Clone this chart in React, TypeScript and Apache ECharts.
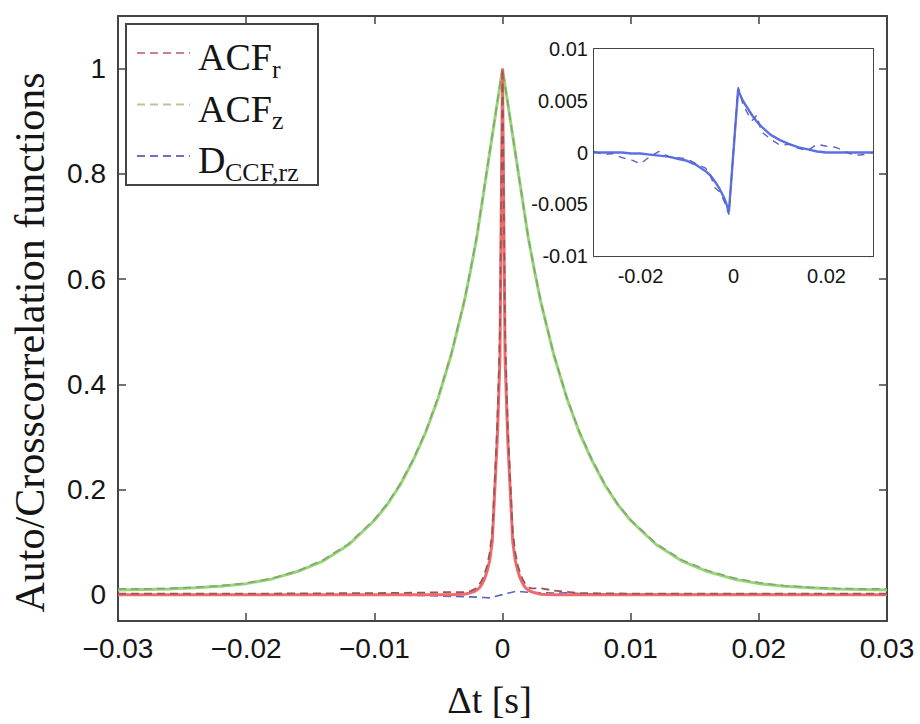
import React, { useEffect, useRef } from "react";
import * as echarts from "echarts";

// ---- main panel data ----
const tG = [-0.03,-0.028,-0.026,-0.024,-0.022,-0.02,-0.018,-0.016,-0.014,-0.012,-0.01,-0.009,-0.008,-0.007,-0.006,-0.005,-0.004,-0.003,-0.0025,-0.002,-0.0015,-0.001,-0.0005,0,0.0005,0.001,0.0015,0.002,0.0025,0.003,0.004,0.005,0.006,0.007,0.008,0.009,0.01,0.012,0.014,0.016,0.018,0.02,0.022,0.024,0.026,0.028,0.03];
const acfZFit = [0.009,0.010,0.011,0.013,0.016,0.021,0.030,0.044,0.064,0.095,0.141,0.171,0.208,0.254,0.308,0.375,0.456,0.555,0.615,0.68,0.76,0.84,0.92,1,0.92,0.84,0.76,0.68,0.615,0.555,0.456,0.375,0.308,0.254,0.208,0.171,0.141,0.095,0.064,0.044,0.030,0.021,0.016,0.013,0.011,0.010,0.009];
const acfZData = [0.011,0.011,0.012,0.014,0.017,0.022,0.031,0.045,0.066,0.097,0.143,0.173,0.21,0.256,0.31,0.377,0.458,0.557,0.617,0.683,0.762,0.842,0.921,1,0.92,0.84,0.76,0.68,0.616,0.556,0.457,0.376,0.31,0.256,0.21,0.172,0.142,0.097,0.066,0.046,0.032,0.023,0.017,0.014,0.012,0.011,0.011];

const tR = [-0.03,-0.02,-0.01,-0.006,-0.004,-0.003,-0.0026,-0.0022,-0.002,-0.0018,-0.0016,-0.0014,-0.0012,-0.001,-0.0008,-0.0006,-0.0004,-0.0002,0,0.0002,0.0004,0.0006,0.0008,0.001,0.0012,0.0014,0.0016,0.0018,0.002,0.0022,0.0026,0.003,0.004,0.006,0.01,0.02,0.03];
const acfRFit = [0,0,0,0,0,0.001,0.003,0.006,0.009,0.013,0.02,0.03,0.045,0.065,0.1,0.2,0.3,0.45,1,0.45,0.3,0.2,0.1,0.065,0.045,0.03,0.02,0.013,0.009,0.006,0.003,0.001,0,0,0,0,0];
const acfRData = [0.002,0.002,0.003,0.004,0.005,0.005,0.006,0.01,0.014,0.02,0.028,0.04,0.055,0.08,0.12,0.22,0.33,0.5,1,0.5,0.33,0.22,0.12,0.08,0.055,0.04,0.028,0.02,0.015,0.012,0.012,0.012,0.008,0.003,0.002,0.002,0.002];

// ---- D_CCF,rz (inset, also near zero in main panel) ----
const tD = [-0.03,-0.028,-0.026,-0.024,-0.022,-0.02,-0.018,-0.016,-0.014,-0.012,-0.01,-0.008,-0.006,-0.005,-0.004,-0.003,-0.002,-0.0015,-0.001,0.001,0.0015,0.002,0.003,0.004,0.005,0.006,0.008,0.01,0.012,0.014,0.016,0.018,0.02,0.022,0.024,0.026,0.028,0.03];
const dFit = [0,0,0,0,-0.0001,-0.0001,-0.0002,-0.0003,-0.0004,-0.0006,-0.0008,-0.0012,-0.0018,-0.0022,-0.0028,-0.0035,-0.0044,-0.005,-0.0058,0.0061,0.0055,0.005,0.0043,0.0036,0.003,0.0025,0.0017,0.0012,0.0008,0.0005,0.0003,0.0001,0,0,0,0,0,0];
const dData = [0.0001,-0.0002,-0.0001,-0.0005,-0.0007,-0.0011,-0.0004,0.0001,-0.0004,-0.0005,-0.0006,-0.0011,-0.0015,-0.0022,-0.0034,-0.0038,-0.0047,-0.0053,-0.006,0.0063,0.0056,0.0047,0.0038,0.0031,0.0036,0.002,0.0013,0.0007,0.0008,0.0004,0.0002,0.0008,0.0006,0.0005,0.0001,-0.0003,-0.0002,0];

// ---- ticks ----
const mainYTicks = [0, 0.2, 0.4, 0.6, 0.8, 1];
const insetXTicks = [-0.02, 0, 0.02];

const legendItems = [
  { main: "ACF", sub: "r", color: "#c98585" },
  { main: "ACF", sub: "z", color: "#b9c69a" },
  { main: "D", sub: "CCF,rz", color: "#6a72c4" },
];

const GREEN = "#93d874";
const GREEN_D = "#8c9e7a";
const RED = "#ef6b6b";
const RED_D = "#9a5656";
const BLUE = "#5d70e2";
const BLUE_D = "#5864c2";
const AXIS = "#444";
const TXT = "#151515";
const SANS = "'Liberation Sans', Arial, Helvetica, sans-serif";
const SERIF = "'Liberation Serif', 'Times New Roman', serif";

const zip = (t: number[], v: number[]) => t.map((x, i) => [x, v[i]]);
const minus = (s: string) => s.replace("-", "\u2212");
const fmt = (v: number) => String(+v.toFixed(4));

function buildOption() {
  const mainTick = { show: true, inside: true, length: 8, lineStyle: { color: AXIS, width: 1.5 } };
  const insetTick = { show: true, inside: true, length: 5, lineStyle: { color: AXIS, width: 1.2 } };
  const line = { show: true, onZero: false, lineStyle: { color: AXIS, width: 2 } };

  const legendGraphics: any[] = [
    { type: "rect", shape: { x: 126, y: 24, width: 192, height: 161 }, style: { fill: "#fff", stroke: AXIS, lineWidth: 2 }, z: 100 },
  ];
  legendItems.forEach((it, i) => {
    const ly = 53 + 51.5 * i;
    legendGraphics.push({
      type: "line", shape: { x1: 137, y1: ly, x2: 190, y2: ly },
      style: { stroke: it.color, lineWidth: 2, lineDash: [8, 5] }, z: 101,
    });
    legendGraphics.push({
      type: "text", x: 198, y: ly + 4,
      style: { text: it.main, font: `38px ${SERIF}`, fill: TXT, verticalAlign: "middle", align: "left" }, z: 101,
    });
    legendGraphics.push({
      type: "text", x: it.main === "D" ? 225 : 272, y: ly + 16,
      style: { text: it.sub, font: `26px ${SERIF}`, fill: TXT, verticalAlign: "middle", align: "left" }, z: 101,
    });
  });

  return {
    animation: false,
    backgroundColor: "#fff",
    grid: [
      { left: 118, top: 16, width: 769, height: 606 },
      { left: 594, top: 49, width: 279, height: 207, show: true, backgroundColor: "#fff", borderWidth: 0, z: 5 },
    ],
    xAxis: [
      {
        gridIndex: 0, type: "value", position: "bottom", min: -0.03, max: 0.03, interval: 0.01,
        axisLine: line, axisTick: mainTick, splitLine: { show: false },
        axisLabel: { fontFamily: SANS, fontSize: 28, color: TXT, margin: 13, formatter: (v: number) => minus(fmt(v)) },
        name: "\u0394t [s]", nameLocation: "middle", nameGap: 60,
        nameTextStyle: { fontFamily: SERIF, fontSize: 38, color: TXT, padding: [0, 26, 0, 0] },
      },
      {
        gridIndex: 0, type: "value", position: "top", min: -0.03, max: 0.03, interval: 0.01,
        axisLine: line, axisTick: mainTick, axisLabel: { show: false }, splitLine: { show: false },
      },
      {
        gridIndex: 1, type: "value", position: "bottom", min: -0.03, max: 0.03,
        axisLine: line, splitLine: { show: false },
        axisTick: { ...insetTick, customValues: insetXTicks },
        axisLabel: { customValues: insetXTicks, fontFamily: SANS, fontSize: 20, color: TXT, margin: 10, formatter: (v: number) => fmt(v) },
      },
      {
        gridIndex: 1, type: "value", position: "top", min: -0.03, max: 0.03,
        axisLine: line, splitLine: { show: false },
        axisTick: { ...insetTick, customValues: insetXTicks },
        axisLabel: { show: false, customValues: insetXTicks },
      },
    ],
    yAxis: [
      {
        gridIndex: 0, type: "value", position: "left", min: -0.05, max: 1.1,
        axisLine: line, splitLine: { show: false },
        axisTick: { ...mainTick, customValues: mainYTicks },
        axisLabel: { customValues: mainYTicks, fontFamily: SANS, fontSize: 28, color: TXT, margin: 12, formatter: (v: number) => fmt(v) },
        name: "Auto/Crosscorrelation functions", nameLocation: "middle", nameGap: 67,
        nameTextStyle: { fontFamily: SERIF, fontSize: 42, color: TXT, padding: [0, 48, 0, 0] },
      },
      {
        gridIndex: 0, type: "value", position: "right", min: -0.05, max: 1.1,
        axisLine: line, splitLine: { show: false },
        axisTick: { ...mainTick, customValues: mainYTicks },
        axisLabel: { show: false, customValues: mainYTicks },
      },
      {
        gridIndex: 1, type: "value", position: "left", min: -0.01, max: 0.01, interval: 0.005,
        axisLine: line, splitLine: { show: false }, axisTick: insetTick,
        axisLabel: { fontFamily: SANS, fontSize: 20, color: TXT, margin: 6, formatter: (v: number) => fmt(v) },
      },
      {
        gridIndex: 1, type: "value", position: "right", min: -0.01, max: 0.01, interval: 0.005,
        axisLine: line, splitLine: { show: false }, axisTick: insetTick, axisLabel: { show: false },
      },
    ],
    series: [
      { name: "ACF_z fit", type: "line", xAxisIndex: 0, yAxisIndex: 0, data: zip(tG, acfZFit), showSymbol: false, symbol: "none", lineStyle: { color: GREEN, width: 3 }, z: 2 },
      { name: "ACF_z", type: "line", xAxisIndex: 0, yAxisIndex: 0, data: zip(tG, acfZData), showSymbol: false, symbol: "none", lineStyle: { color: GREEN_D, width: 1.6, type: [8, 5] }, z: 3 },
      { name: "D_CCF,rz", type: "line", xAxisIndex: 0, yAxisIndex: 0, data: zip(tD, dData), showSymbol: false, symbol: "none", lineStyle: { color: BLUE_D, width: 1.6, type: [8, 5] }, z: 4 },
      { name: "ACF_r fit", type: "line", xAxisIndex: 0, yAxisIndex: 0, data: zip(tR, acfRFit), showSymbol: false, symbol: "none", lineStyle: { color: RED, width: 3 }, z: 5 },
      { name: "ACF_r", type: "line", xAxisIndex: 0, yAxisIndex: 0, data: zip(tR, acfRData), showSymbol: false, symbol: "none", lineStyle: { color: RED_D, width: 1.8, type: [8, 5] }, z: 6 },
      { name: "D fit (inset)", type: "line", xAxisIndex: 2, yAxisIndex: 2, data: zip(tD, dFit), showSymbol: false, symbol: "none", lineStyle: { color: BLUE, width: 2.4 }, z: 10 },
      { name: "D_CCF,rz (inset)", type: "line", xAxisIndex: 2, yAxisIndex: 2, data: zip(tD, dData), showSymbol: false, symbol: "none", lineStyle: { color: BLUE_D, width: 1.4, type: [7, 6] }, z: 11 },
    ],
    graphic: legendGraphics,
  };
}

export default function App() {
  const ref = useRef<HTMLDivElement>(null);
  useEffect(() => {
    if (!ref.current) return;
    const chart = echarts.init(ref.current, null, { renderer: "svg" });
    chart.setOption(buildOption() as any);
    return () => chart.dispose();
  }, []);
  return <div ref={ref} style={{ position: "absolute", left: 0, top: 0, width: 920, height: 724 }} />;
}
